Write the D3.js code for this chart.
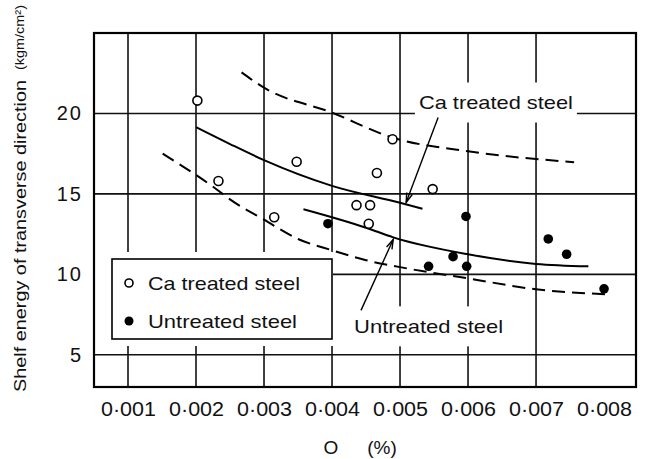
<!DOCTYPE html>
<html><head><meta charset="utf-8">
<script src="https://cdn.jsdelivr.net/npm/d3@7"></script>
<style>
html,body{margin:0;padding:0;background:#fff;}
svg{display:block;}
text{font-family:"Liberation Sans",Arial,sans-serif;fill:#111;}
</style></head>
<body>
<svg id="chart" width="646" height="459"></svg>
<script>
// ---- data ----
const xTickValues = [0.001,0.002,0.003,0.004,0.005,0.006,0.007,0.008];
const xTickLabels = ["0·001","0·002","0·003","0·004","0·005","0·006","0·007","0·008"];
const xGridValues = [0.001,0.002,0.003,0.004,0.005,0.006,0.007];
const yTickValues = [5,10,15,20];
const yTickLabels = ["5","10","15","20"];

const caX = [0.00202,0.00233,0.00315,0.00348,0.00436,0.00456,0.00454,0.00466,0.00489,0.00548];
const caY = [20.8,15.8,13.55,17.0,14.3,14.3,13.15,16.3,18.4,15.3];

const unX = [0.00394,0.00542,0.00578,0.00598,0.00597,0.00718,0.00745,0.00800];
const unY = [13.15,10.5,11.1,10.5,13.6,12.2,11.25,9.1];

const caFitX = [0.00200,0.00250,0.00300,0.00400,0.00500,0.00533];
const caFitY = [19.15,18.1,17.1,15.5,14.45,14.08];

const upperBandX = [0.00267,0.00300,0.00400,0.00489,0.00600,0.00756];
const upperBandY = [22.55,21.6,20.05,18.5,17.65,16.97];

const lowerBandX = [0.00151,0.00233,0.00250,0.00300,0.00350,0.00400,0.00450,0.00500,0.00600,0.00700,0.00810];
const lowerBandY = [17.5,15.2,14.66,13.4,12.2,11.5,10.88,10.45,9.75,9.07,8.75];

const unFitX = [0.00358,0.00450,0.00490,0.00600,0.00700,0.00777];
const unFitY = [14.05,12.9,12.3,11.25,10.65,10.5];

const legendLabels = ["Ca treated steel","Untreated steel"];
const xTitleParts = ["O","(%)"];
const yTitle = "Shelf energy of transverse direction";
const yUnit = "(kgm/cm²)";

// ---- layout ----
const svg = d3.select("#chart");
const L = 94, R = 636, T = 33, B = 387;
const x = d3.scaleLinear().domain([0.0005,0.00847]).range([L,R]);
const y = d3.scaleLinear().domain([3,25]).range([B,T]);

// grid
const grid = svg.append("g").attr("stroke","#111").attr("stroke-width",1.6);
grid.selectAll("line.v").data(xGridValues).join("line")
  .attr("x1",d=>x(d)).attr("x2",d=>x(d)).attr("y1",T).attr("y2",B);
grid.selectAll("line.h").data(yTickValues).join("line")
  .attr("x1",L).attr("x2",R).attr("y1",d=>y(d)).attr("y2",d=>y(d));

// curves
const line = d3.line().x(d=>x(d[0])).y(d=>y(d[1])).curve(d3.curveMonotoneX);
const zip = (a,b)=>a.map((v,i)=>[v,b[i]]);
svg.append("path").attr("d",line(zip(caFitX,caFitY))).attr("fill","none").attr("stroke","#000").attr("stroke-width",2);
svg.append("path").attr("d",line(zip(unFitX,unFitY))).attr("fill","none").attr("stroke","#000").attr("stroke-width",2);
svg.append("path").attr("d",line(zip(upperBandX,upperBandY))).attr("fill","none").attr("stroke","#000").attr("stroke-width",2).attr("stroke-dasharray","13,7");
svg.append("path").attr("d",line(zip(lowerBandX,lowerBandY))).attr("fill","none").attr("stroke","#000").attr("stroke-width",2).attr("stroke-dasharray","13,7");

// annotation labels (white boxes)
function annot(text, cx, cy, w){
  const px = x(cx), py = y(cy);
  svg.append("rect").attr("x",px-w/2-4).attr("y",py-20).attr("width",w+8).attr("height",40).attr("fill","#fff");
  svg.append("text").attr("x",px-w/2).attr("y",py).attr("dy","0.36em")
    .attr("font-size",19).attr("textLength",w).attr("lengthAdjust","spacingAndGlyphs").text(text);
}
annot("Ca treated steel", 0.00641, 20.68, 154);
annot("Untreated steel", 0.00542, 6.77, 149);

// arrows
function arrow(x1,y1,x2,y2){
  const a=[x(x1),y(y1)], b=[x(x2),y(y2)];
  svg.append("line").attr("x1",a[0]).attr("y1",a[1]).attr("x2",b[0]).attr("y2",b[1]).attr("stroke","#000").attr("stroke-width",1.4);
  const ang=Math.atan2(b[1]-a[1],b[0]-a[0]), len=10, sp=0.3;
  const p1=[b[0]-len*Math.cos(ang-sp), b[1]-len*Math.sin(ang-sp)];
  const p2=[b[0]-len*Math.cos(ang+sp), b[1]-len*Math.sin(ang+sp)];
  svg.append("path").attr("d",`M${p1}L${b}L${p2}`).attr("fill","none").attr("stroke","#000").attr("stroke-width",1.4);
}
arrow(0.00556,19.75,0.00509,14.47);
arrow(0.004426,7.76,0.0049,12.17);

// legend
const lg = svg.append("g");
lg.append("rect").attr("x",L+1).attr("y",252).attr("width",333-L-1).attr("height",94).attr("fill","#fff");
lg.append("rect").attr("x",112).attr("y",259).attr("width",220).attr("height",80).attr("fill","#fff").attr("stroke","#000").attr("stroke-width",1.6);
lg.append("circle").attr("cx",129).attr("cy",283).attr("r",4).attr("fill","#fff").attr("stroke","#000").attr("stroke-width",1.6);
lg.append("circle").attr("cx",129).attr("cy",321).attr("r",4.5).attr("fill","#000");
lg.selectAll("text").data(legendLabels).join("text")
  .attr("x",148).attr("y",(d,i)=>283+i*38).attr("dy","0.36em").attr("font-size",19)
  .attr("textLength",(d,i)=>i?149:152).attr("lengthAdjust","spacingAndGlyphs").text(d=>d);

// points
svg.append("g").selectAll("circle").data(zip(caX,caY)).join("circle")
  .attr("cx",d=>x(d[0])).attr("cy",d=>y(d[1])).attr("r",4.5)
  .attr("fill","#fff").attr("stroke","#000").attr("stroke-width",1.6);
svg.append("g").selectAll("circle").data(zip(unX,unY)).join("circle")
  .attr("cx",d=>x(d[0])).attr("cy",d=>y(d[1])).attr("r",4.8).attr("fill","#000");

// frame
svg.append("rect").attr("x",L).attr("y",T).attr("width",R-L).attr("height",B-T)
  .attr("fill","none").attr("stroke","#000").attr("stroke-width",2.2);

// axes (labels only)
const xAxis = d3.axisBottom(x).tickValues(xTickValues).tickSize(0).tickPadding(15)
  .tickFormat((d,i)=>xTickLabels[i]);
const gx = svg.append("g").attr("transform",`translate(0,${B})`).call(xAxis);
gx.select(".domain").remove();
gx.selectAll("text").attr("font-size",20).attr("fill","#111")
  .attr("font-family","Liberation Sans, Arial, sans-serif")
  .attr("textLength",55).attr("lengthAdjust","spacingAndGlyphs");

const yAxis = d3.axisLeft(y).tickValues(yTickValues).tickSize(0).tickPadding(11)
  .tickFormat((d,i)=>yTickLabels[i]);
const gy = svg.append("g").attr("transform",`translate(${L},0)`).call(yAxis);
gy.select(".domain").remove();
gy.selectAll("text").attr("font-size",20).attr("fill","#111").attr("letter-spacing",2)
  .attr("font-family","Liberation Sans, Arial, sans-serif");

// titles
svg.append("text").attr("x",331).attr("y",447).attr("dy","0.36em").attr("text-anchor","middle")
  .attr("font-size",19).text(xTitleParts[0]);
svg.append("text").attr("x",382).attr("y",447).attr("dy","0.36em").attr("text-anchor","middle")
  .attr("font-size",19).text(xTitleParts[1]);
svg.append("text").attr("transform","translate(20,392) rotate(-90)").attr("dy","0.36em")
  .attr("font-size",16).attr("textLength",312).attr("lengthAdjust","spacingAndGlyphs").text(yTitle);
svg.append("text").attr("transform","translate(20,70) rotate(-90)").attr("dy","0.36em")
  .attr("font-size",12).attr("textLength",65).attr("lengthAdjust","spacingAndGlyphs").text(yUnit);
</script>
</body></html>
